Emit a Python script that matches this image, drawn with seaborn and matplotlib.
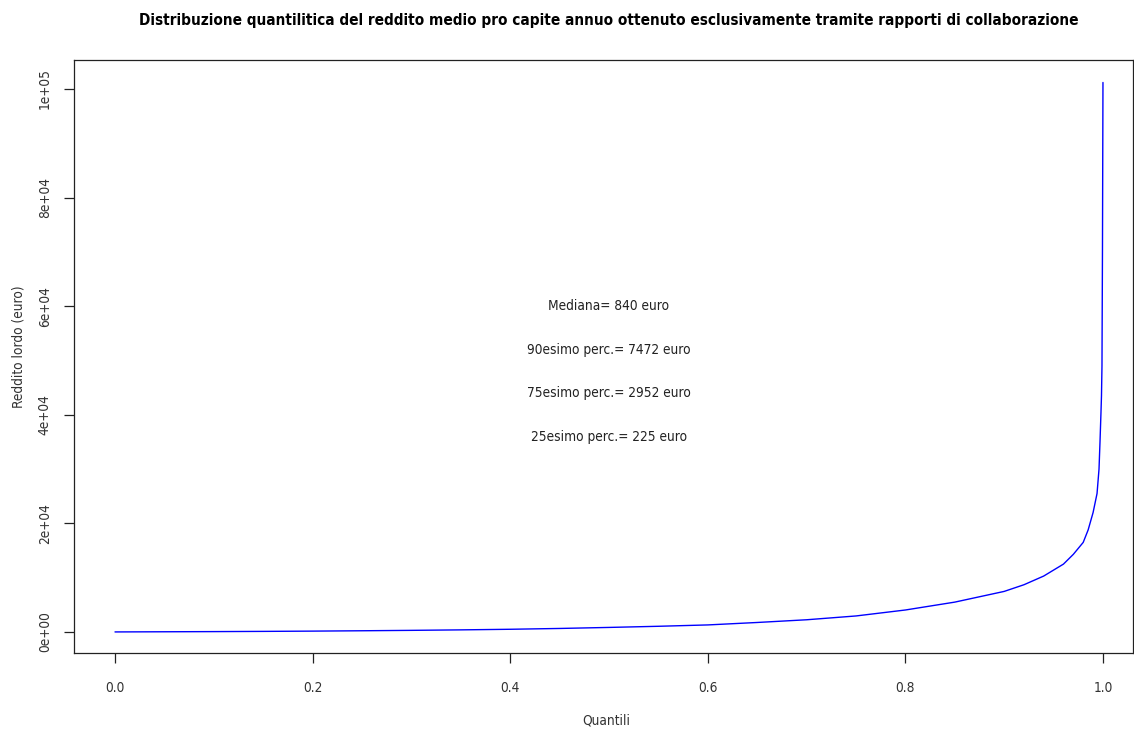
import matplotlib
matplotlib.use("Agg")
import matplotlib.pyplot as plt
import seaborn as sns
import pandas as pd

# Quantile levels and corresponding income values (euro)
quantili = [0.0, 0.05, 0.10, 0.15, 0.20, 0.25, 0.30, 0.35, 0.40, 0.45, 0.50,
            0.55, 0.60, 0.65, 0.70, 0.75, 0.80, 0.85, 0.90, 0.92, 0.94, 0.96,
            0.97, 0.98, 0.985, 0.99, 0.994, 0.996, 0.997, 0.998, 0.9985,
            0.999, 0.9995, 1.0]
reddito = [10, 40, 70, 110, 160, 225, 300, 390, 500, 650, 840,
           1050, 1300, 1750, 2250, 2952, 4050, 5500, 7472, 8700, 10300, 12500,
           14300, 16500, 18800, 22000, 25500, 30000, 35000, 40500, 43500,
           49000, 70500, 101200]

annot_text = ["Mediana= 840 euro", "90esimo perc.= 7472 euro",
              "75esimo perc.= 2952 euro", "25esimo perc.= 225 euro"]
annot_y = [60000, 52000, 44000, 36000]

x_ticks = [0.0, 0.2, 0.4, 0.6, 0.8, 1.0]
y_ticks = [0, 20000, 40000, 60000, 80000, 100000]
y_tick_labels = ["0e+00", "2e+04", "4e+04", "6e+04", "8e+04", "1e+05"]

title = ("Distribuzione quantilitica del reddito medio pro capite annuo "
         "ottenuto esclusivamente tramite rapporti di collaborazione")

sns.set_style("ticks")
plt.rcParams['font.family'] = ['DejaVu Sans']
font_kw = {"fontstretch": "condensed"}

df = pd.DataFrame({"q": quantili, "v": reddito})

fig = plt.figure(figsize=(11.34, 7.31), dpi=100)
ax = fig.add_axes([74/1134, 1 - 653/731, (1133 - 74)/1134, (653 - 60)/731])

sns.lineplot(data=df, x="q", y="v", ax=ax, color="#0000ff", lw=1.0,
             estimator=None, sort=False)

ax.set_xlim(-0.0415, 1.0304)
ax.set_ylim(-3870, 105340)

fs = 9.8
ax.set_xticks(x_ticks)
ax.set_xticklabels([f"{t:.1f}" for t in x_ticks], fontsize=fs, **font_kw)
ax.set_yticks(y_ticks)
ax.set_yticklabels(y_tick_labels, rotation=90, va="center", fontsize=fs, **font_kw)

ax.tick_params(axis="both", direction="out", length=7, width=0.9,
               colors="#222222", labelcolor="#333333")
ax.tick_params(axis="x", pad=13)
ax.tick_params(axis="y", pad=9)

for s in ax.spines.values():
    s.set_visible(True)
    s.set_color("#222222")
    s.set_linewidth(0.9)

for t, yy in zip(annot_text, annot_y):
    ax.text(0.5, yy, t, ha="center", va="center", fontsize=fs,
            color="#222222", **font_kw)

ax.set_xlabel("")
ax.set_ylabel("")
fig.text(606/1134, 1 - 721/731, "Quantili", ha="center", va="center",
         fontsize=fs, color="#333333", **font_kw)
fig.text(19/1134, 1 - 347/731, "Reddito lordo (euro)", ha="center", va="center",
         rotation=90, fontsize=fs, color="#333333", **font_kw)
fig.text(609/1134, 1 - 21/731, title, ha="center", va="center",
         fontsize=11.0, fontweight="bold", color="black", **font_kw)

fig.savefig("out.png", dpi=100, facecolor="white")
